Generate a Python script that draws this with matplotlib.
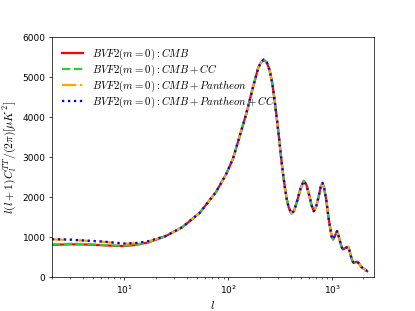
import numpy as np
import matplotlib.pyplot as plt

plt.rcParams['mathtext.fontset'] = 'cm'

# multipoles
ell_low = [2, 3, 4, 6, 8, 10, 13, 17]
ell_high = [25, 36, 53, 76, 95, 111, 128, 149, 173, 193, 205, 219, 235, 250, 265,
            279, 295, 312, 325, 336, 350, 365, 380, 405, 430, 460, 495, 532, 565,
            600, 635, 665, 700, 740, 775, 806, 840, 880, 920, 960, 990, 1021, 1060,
            1115, 1160, 1200, 1240, 1274, 1340, 1423, 1470, 1520, 1570, 1614, 1680,
            1738, 1800, 1850, 1920, 1986, 2080, 2173]

# low-l part differs between the fits
cmb_low = [800, 812, 810, 790, 775, 770, 800, 860]
cmb_cc_low = [815, 825, 820, 800, 782, 776, 805, 865]
cmb_pan_low = [935, 925, 905, 880, 850, 828, 840, 885]
cmb_pan_cc_low = [942, 930, 910, 885, 855, 832, 845, 890]

# acoustic peaks, common to all fits
dl_high = [1020, 1240, 1600, 2120, 2560, 2960, 3500, 4085, 4750, 5210, 5360, 5435,
           5360, 5170, 4850, 4420, 3900, 3335, 2900, 2585, 2250, 1950, 1750, 1585,
           1650, 1900, 2200, 2400, 2300, 2050, 1780, 1642, 1750, 2000, 2250, 2350,
           2200, 1900, 1500, 1200, 1000, 935, 1020, 1143, 1000, 850, 730, 685, 720,
           750, 650, 500, 390, 350, 365, 375, 340, 300, 240, 210, 180, 140]

ell = ell_low + ell_high
series = [
    (cmb_low, r'$BVF2(m=0): CMB$', 'red', '-'),
    (cmb_cc_low, r'$BVF2(m=0): CMB+CC$', 'limegreen', '--'),
    (cmb_pan_low, r'$BVF2(m=0): CMB+Pantheon$', 'orange', '-.'),
    (cmb_pan_cc_low, r'$BVF2(m=0): CMB+Pantheon+CC$', 'blue', ':'),
]

fig, ax = plt.subplots(figsize=(6.4, 4.8))
for low, lab, col, ls in series:
    ax.plot(ell, low + dl_high, color=col, linestyle=ls, linewidth=2.5, label=lab)

ax.set_xscale('log')
ax.set_xlim(2, 2500)
ax.set_ylim(0, 6000)
ax.set_xlabel(r'$l$', fontsize=13)
ax.set_ylabel(r'$l(l+1)C_l^{TT}/(2\pi)[\mu K^2]$', fontsize=13)
ax.legend(loc='upper left', frameon=False, fontsize=12, labelspacing=0.05)

fig.savefig('out.png', dpi=415 / 6.4)
